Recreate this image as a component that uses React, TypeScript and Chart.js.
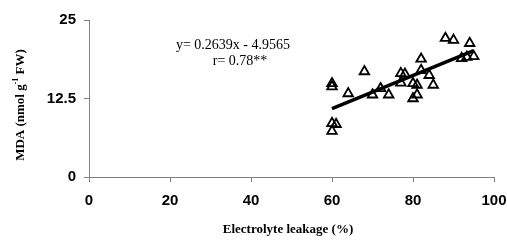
import React, { useEffect, useRef } from "react";
import { Chart, registerables } from "chart.js";

Chart.register(...registerables);

const leakage = [60, 60, 60, 61, 60, 64, 68, 70, 72, 74, 77, 78, 77, 80, 81, 80, 81, 82, 82, 84, 85, 88, 90, 94, 92, 93.3, 95];
const mda = [14.9, 14.4, 8.55, 8.4, 7.3, 13.3, 16.8, 13.1, 14.1, 13.1, 16.5, 16.4, 15.0, 14.9, 14.65, 12.5, 13.1, 18.8, 17.0, 16.2, 14.65, 22.1, 21.8, 21.3, 18.9, 19.1, 19.2];
const slope = 0.2639;
const intercept = -4.9565;
const fitRange = [60, 95];
const xTicks = [0, 20, 40, 60, 80, 100];
const yTicks = [0, 12.5, 25];
const equationText = "y= 0.2639x - 4.9565";
const rText = "r= 0.78**";

export default function App() {
  const ref = useRef<HTMLCanvasElement | null>(null);

  useEffect(() => {
    const canvas = ref.current;
    if (!canvas) return;
    const points = leakage.map((x, i) => ({ x, y: mda[i] }));
    const fit = fitRange.map((x) => ({ x, y: slope * x + intercept }));

    const titles = {
      id: "titles",
      afterDraw(chart: any) {
        const ctx = chart.ctx;
        ctx.save();
        ctx.fillStyle = "#000";
        ctx.font = "14px 'Liberation Serif', serif";
        ctx.textAlign = "center";
        ctx.textBaseline = "middle";
        ctx.fillText(equationText, 233, 45);
        ctx.fillText(rText, 240, 61);
        ctx.font = "bold 13px 'Liberation Serif', serif";
        ctx.fillText("Electrolyte leakage (%)", 288, 230);
        ctx.translate(20, 105);
        ctx.rotate(-Math.PI / 2);
        const big = "bold 13px 'Liberation Serif', serif";
        const small = "bold 8px 'Liberation Serif', serif";
        const p1 = "MDA (nmol g";
        const p2 = "-1";
        const p3 = " FW)";
        ctx.font = big;
        const w1 = ctx.measureText(p1).width;
        const w3 = ctx.measureText(p3).width;
        ctx.font = small;
        const w2 = ctx.measureText(p2).width;
        const total = w1 + w2 + w3;
        let x = -total / 2;
        ctx.textAlign = "left";
        ctx.textBaseline = "alphabetic";
        ctx.font = big;
        ctx.fillText(p1, x, 4);
        x += w1;
        ctx.font = small;
        ctx.fillText(p2, x, -2);
        x += w2;
        ctx.font = big;
        ctx.fillText(p3, x, 4);
        ctx.restore();
      },
    };

    const tickFont = { family: "'Liberation Sans', Arial, sans-serif", size: 15, weight: "bold" as const };

    const chart = new Chart(canvas, {
      type: "scatter",
      data: {
        datasets: [
          {
            type: "line",
            data: fit,
            borderColor: "#000",
            borderWidth: 3.5,
            pointRadius: 0,
            fill: false,
            order: 0,
          } as any,
          {
            data: points,
            pointStyle: "triangle",
            pointRadius: 5.5,
            borderColor: "#000",
            backgroundColor: "rgba(255,255,255,0)",
            borderWidth: 1.8,
            order: 1,
          },
        ],
      },
      options: {
        responsive: false,
        animation: false,
        layout: { padding: { left: 0, right: 13, top: 20, bottom: 0 } },
        plugins: { legend: { display: false }, tooltip: { enabled: false } },
        scales: {
          x: {
            type: "linear",
            min: 0,
            max: 100,
            afterBuildTicks(scale: any) {
              scale.ticks = xTicks.map((v) => ({ value: v }));
            },
            afterFit(scale: any) {
              scale.height = 63;
              scale.paddingRight = 0;
              scale.paddingLeft = 0;
            },
            ticks: { color: "#000", font: tickFont, padding: 10, maxRotation: 0 },
            grid: { drawOnChartArea: false, drawTicks: true, tickLength: 5, color: "#808080" },
            border: { display: true, color: "#808080", width: 1 },
          },
          y: {
            type: "linear",
            min: 0,
            max: 25,
            afterBuildTicks(scale: any) {
              scale.ticks = yTicks.map((v) => ({ value: v }));
            },
            afterFit(scale: any) {
              scale.width = 89;
              scale.paddingTop = 0;
              scale.paddingBottom = 0;
            },
            ticks: { color: "#000", font: tickFont, padding: 8 },
            grid: { drawOnChartArea: false, drawTicks: true, tickLength: 5, color: "#808080" },
            border: { display: true, color: "#808080", width: 1 },
          },
        },
      },
      plugins: [titles],
    });
    return () => chart.destroy();
  }, []);

  return (
    <div style={{ position: "fixed", left: 0, top: 0, width: 507, height: 240, background: "#fff" }}>
      <canvas ref={ref} width={507} height={240} style={{ display: "block" }} />
    </div>
  );
}
